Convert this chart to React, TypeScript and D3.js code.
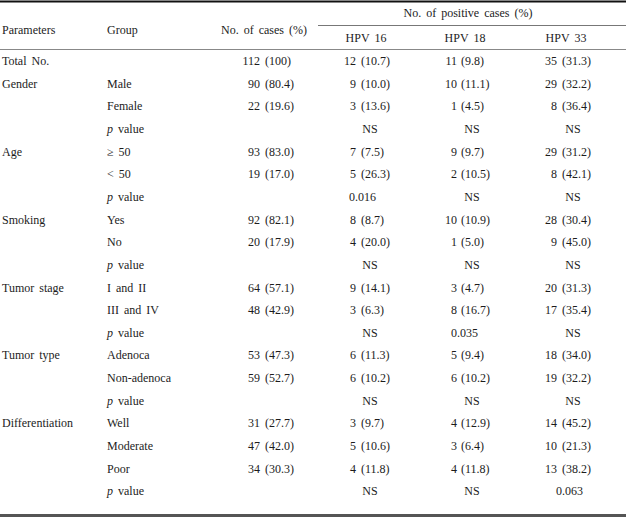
import React from "react";
import * as d3 from "d3";

const W = 626;
const H = 519;

const parameters = ["Total No.", "Gender", "", "", "Age", "", "", "Smoking", "", "", "Tumor stage", "", "", "Tumor type", "", "", "Differentiation", "", "", ""];
const groups = ["", "Male", "Female", "p value", "≥ 50", "< 50", "p value", "Yes", "No", "p value", "I and II", "III and IV", "p value", "Adenoca", "Non-adenoca", "p value", "Well", "Moderate", "Poor", "p value"];

const casesN = [112, 90, 22, null, 93, 19, null, 92, 20, null, 64, 48, null, 53, 59, null, 31, 47, 34, null];
const casesPct = ["100", "80.4", "19.6", null, "83.0", "17.0", null, "82.1", "17.9", null, "57.1", "42.9", null, "47.3", "52.7", null, "27.7", "42.0", "30.3", null];

const hpv16N = [12, 9, 3, null, 7, 5, null, 8, 4, null, 9, 3, null, 6, 6, null, 3, 5, 4, null];
const hpv16Pct = ["10.7", "10.0", "13.6", null, "7.5", "26.3", null, "8.7", "20.0", null, "14.1", "6.3", null, "11.3", "10.2", null, "9.7", "10.6", "11.8", null];
const hpv16P = ["NS", "0.016", "NS", "NS", "NS", "NS"];

const hpv18N = [11, 10, 1, null, 9, 2, null, 10, 1, null, 3, 8, null, 5, 6, null, 4, 3, 4, null];
const hpv18Pct = ["9.8", "11.1", "4.5", null, "9.7", "10.5", null, "10.9", "5.0", null, "4.7", "16.7", null, "9.4", "10.2", null, "12.9", "6.4", "11.8", null];
const hpv18P = ["NS", "NS", "NS", "0.035", "NS", "NS"];

const hpv33N = [35, 29, 8, null, 29, 8, null, 28, 9, null, 20, 17, null, 18, 19, null, 14, 10, 13, null];
const hpv33Pct = ["31.3", "32.2", "36.4", null, "31.2", "42.1", null, "30.4", "45.0", null, "31.3", "35.4", null, "34.0", "32.2", null, "45.2", "21.3", "38.2", null];
const hpv33P = ["NS", "NS", "NS", "NS", "NS", "0.063"];

const hpvHeaders = ["HPV 16", "HPV 18", "HPV 33"];

const FONT = "'Liberation Serif', 'Times New Roman', serif";
const COLOR = "#1c1c1c";

export default function App() {
  const rowIdx = d3.range(groups.length);
  const y = d3.scalePoint<number>().domain(rowIdx).range([61, 491]);

  const hpvCols = [
    { n: hpv16N, pct: hpv16Pct, p: hpv16P, numEnd: 356, paren: 361, center: 370, pStart: 349, head: 366 },
    { n: hpv18N, pct: hpv18Pct, p: hpv18P, numEnd: 457, paren: 461, center: 472, pStart: 451, head: 465 },
    { n: hpv33N, pct: hpv33Pct, p: hpv33P, numEnd: 557, paren: 562, center: 573, pStart: 556, head: 566 },
  ];

  const pRows = rowIdx.filter((i) => groups[i] === "p value");

  const textProps = {
    fontFamily: FONT,
    fontSize: 12,
    fill: COLOR,
    dy: "0.35em",
    wordSpacing: 2,
  } as const;

  return (
    <svg width={W} height={H} style={{ position: "absolute", left: 0, top: 0, background: "#fff" }}>
      <rect width={W} height={H} fill="#fff" />
      {/* rules */}
      <line x1={0} x2={W} y1={1.5} y2={1.5} stroke="#111" strokeWidth={2} />
      <line x1={318} x2={W} y1={25.5} y2={25.5} stroke="#777" strokeWidth={1} />
      <line x1={0} x2={W} y1={49.5} y2={49.5} stroke="#888" strokeWidth={1} />
      <line x1={0} x2={W} y1={515.5} y2={515.5} stroke="#555" strokeWidth={3} />

      {/* header */}
      <text {...textProps} x={2} y={30}>Parameters</text>
      <text {...textProps} x={107} y={30}>Group</text>
      <text {...textProps} x={307} y={30} textAnchor="end">No. of cases (%)</text>
      <text {...textProps} x={468} y={13} textAnchor="middle">No. of positive cases (%)</text>
      {hpvCols.map((c, j) => (
        <text key={"h" + j} {...textProps} x={c.head} y={38} textAnchor="middle">{hpvHeaders[j]}</text>
      ))}

      {/* body */}
      {rowIdx.map((i) => {
        const yy = y(i)!;
        const g = groups[i];
        return (
          <g key={i}>
            {parameters[i] && <text {...textProps} x={2} y={yy}>{parameters[i]}</text>}
            {g === "p value" ? (
              <text {...textProps} x={107} y={yy}>
                <tspan fontStyle="italic">p</tspan>
                <tspan> value</tspan>
              </text>
            ) : (
              g && <text {...textProps} x={107} y={yy}>{g}</text>
            )}
            {casesN[i] !== null && (
              <>
                <text {...textProps} x={260} y={yy} textAnchor="end">{casesN[i]}</text>
                <text {...textProps} x={265} y={yy}>({casesPct[i]})</text>
              </>
            )}
            {hpvCols.map((c, j) => {
              if (c.n[i] !== null) {
                return (
                  <g key={j}>
                    <text {...textProps} x={c.numEnd} y={yy} textAnchor="end">{c.n[i]}</text>
                    <text {...textProps} x={c.paren} y={yy}>({c.pct[i]})</text>
                  </g>
                );
              }
              if (g === "p value") {
                const pv = c.p[pRows.indexOf(i)];
                return pv === "NS" ? (
                  <text key={j} {...textProps} x={c.center} y={yy} textAnchor="middle">{pv}</text>
                ) : (
                  <text key={j} {...textProps} x={c.pStart} y={yy}>{pv}</text>
                );
              }
              return null;
            })}
          </g>
        );
      })}
    </svg>
  );
}
